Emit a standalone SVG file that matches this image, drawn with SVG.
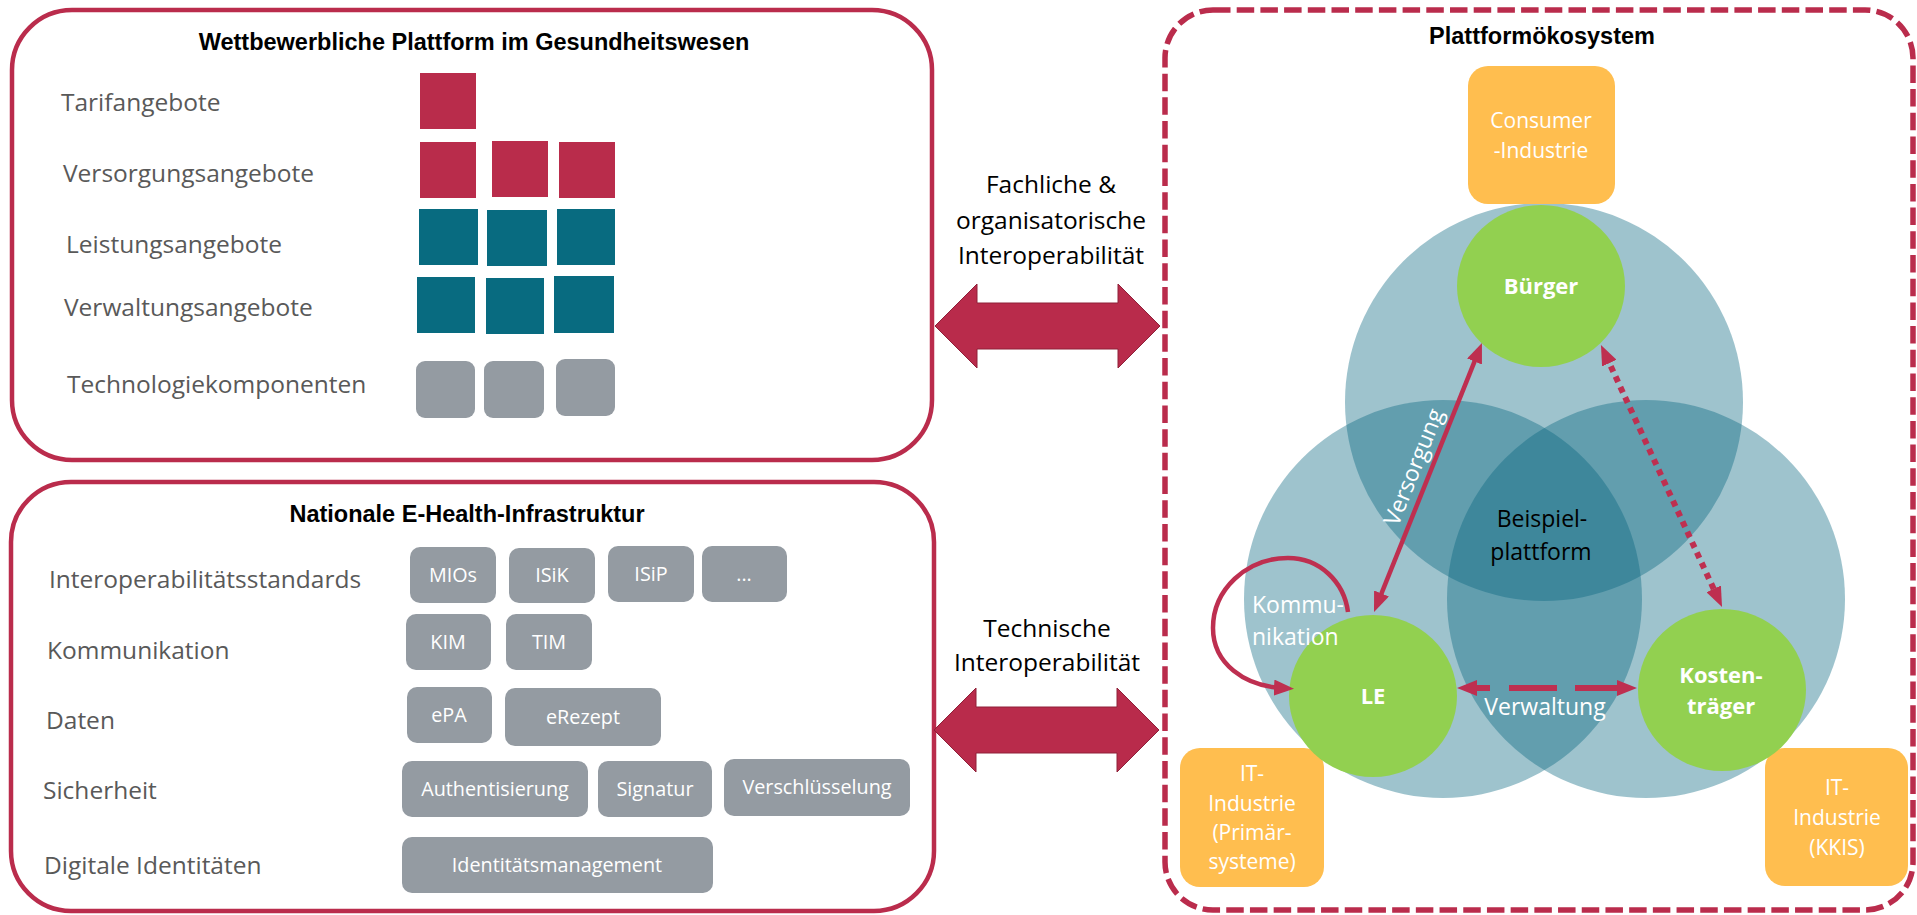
<svg xmlns="http://www.w3.org/2000/svg" width="1917" height="915" viewBox="0 0 1917 915">
  <defs>
    <style>
      .frame { fill: none; stroke: #BA2C4C; stroke-width: 4.5; }
      .eco { fill: none; stroke: #BA2C4C; stroke-width: 5.5; stroke-dasharray: 17.5 6.2; }
      .title { font-family: "Liberation Sans", Arial, sans-serif; font-weight: bold; font-size: 23.5px; fill: #000; text-anchor: middle; }
      .lbl { font-family: "Open Sans", "Liberation Sans", sans-serif; font-size: 24.5px; fill: #595959; }
      .red { fill: #B92C4B; }
      .teal { fill: #086B80; }
      .grey { fill: #949BA2; }
      .chip-t { font-family: "Open Sans", "Liberation Sans", sans-serif; font-size: 19.8px; fill: #fff; text-anchor: middle; }
      .bigarrow { fill: #B92B4B; stroke: #8F2039; stroke-width: 1; }
      .mid { font-family: "Open Sans", "Liberation Sans", sans-serif; font-size: 24.5px; fill: #000; text-anchor: middle; }
      .ring { fill: #04657F; fill-opacity: 0.39; }
      .actor { fill: #92D050; }
      .actor-t { font-family: "Open Sans", "Liberation Sans", sans-serif; font-weight: bold; font-size: 22px; fill: #fff; text-anchor: middle; }
      .ind { fill: #FFBE4F; }
      .ind-t { font-family: "Open Sans", "Liberation Sans", sans-serif; font-size: 21px; fill: #fff; text-anchor: middle; }
      .rel { fill: none; stroke: #BE2F50; }
      .rel-t { font-family: "Open Sans", "Liberation Sans", sans-serif; font-size: 23px; fill: #fff; }
      .core-t { font-family: "Open Sans", "Liberation Sans", sans-serif; font-size: 23px; fill: #000; text-anchor: middle; }
    </style>
    <marker id="head" viewBox="0 0 20 16" refX="8" refY="8" markerWidth="20" markerHeight="16" markerUnits="userSpaceOnUse" orient="auto-start-reverse">
      <path d="M0,0 L20,8 L0,16 z" fill="#BE2F50"/>
    </marker>
    <polygon id="dbl" points="0,0 42,-42 42,-23 183,-23 183,-42 225,0 183,42 183,23 42,23 42,42"/>
  </defs>

  <rect width="1917" height="915" fill="#fff"/>

  <!-- Upper panel: competitive platform -->
  <g id="platform">
    <rect class="frame" x="12" y="10" width="920" height="450" rx="60"/>
    <text class="title" x="474" y="50">Wettbewerbliche Plattform im Gesundheitswesen</text>
    <text class="lbl" x="61" y="111">Tarifangebote</text>
    <text class="lbl" x="63" y="182">Versorgungsangebote</text>
    <text class="lbl" x="66" y="253">Leistungsangebote</text>
    <text class="lbl" x="64" y="316">Verwaltungsangebote</text>
    <text class="lbl" x="67" y="393">Technologiekomponenten</text>
    <rect class="red" x="420" y="73" width="56" height="56"/>
    <rect class="red" x="420" y="142" width="56" height="56"/>
    <rect class="red" x="492" y="141" width="56" height="56"/>
    <rect class="red" x="559" y="142" width="56" height="56"/>
    <rect class="teal" x="419" y="209" width="59" height="56"/>
    <rect class="teal" x="487" y="210" width="60" height="56"/>
    <rect class="teal" x="557" y="209" width="58" height="56"/>
    <rect class="teal" x="417" y="277" width="58" height="56"/>
    <rect class="teal" x="486" y="278" width="58" height="56"/>
    <rect class="teal" x="554" y="276" width="60" height="57"/>
    <rect class="grey" x="416" y="361" width="59" height="57" rx="9"/>
    <rect class="grey" x="484" y="361" width="60" height="57" rx="9"/>
    <rect class="grey" x="556" y="359" width="59" height="57" rx="9"/>
  </g>

  <!-- Lower panel: national e-health infrastructure -->
  <g id="infrastructure">
    <rect class="frame" x="11" y="482" width="923" height="429" rx="60"/>
    <text class="title" x="467" y="522">Nationale E-Health-Infrastruktur</text>
    <text class="lbl" x="49" y="588">Interoperabilitätsstandards</text>
    <text class="lbl" x="47" y="659">Kommunikation</text>
    <text class="lbl" x="46" y="729">Daten</text>
    <text class="lbl" x="43" y="799">Sicherheit</text>
    <text class="lbl" x="44" y="874">Digitale Identitäten</text>

    <rect class="grey" x="410" y="547" width="86" height="56" rx="10"/>
    <text class="chip-t" x="453" y="582">MIOs</text>
    <rect class="grey" x="509" y="548" width="86" height="55" rx="10"/>
    <text class="chip-t" x="552" y="582">ISiK</text>
    <rect class="grey" x="608" y="546" width="86" height="56" rx="10"/>
    <text class="chip-t" x="651" y="581">ISiP</text>
    <rect class="grey" x="702" y="546" width="85" height="56" rx="10"/>
    <text class="chip-t" x="744" y="581">...</text>

    <rect class="grey" x="406" y="614" width="85" height="56" rx="10"/>
    <text class="chip-t" x="448" y="649">KIM</text>
    <rect class="grey" x="506" y="614" width="86" height="56" rx="10"/>
    <text class="chip-t" x="549" y="649">TIM</text>

    <rect class="grey" x="407" y="687" width="85" height="56" rx="10"/>
    <text class="chip-t" x="449" y="722">ePA</text>
    <rect class="grey" x="505" y="688" width="156" height="58" rx="10"/>
    <text class="chip-t" x="583" y="724">eRezept</text>

    <rect class="grey" x="402" y="761" width="186" height="56" rx="10"/>
    <text class="chip-t" x="495" y="796">Authentisierung</text>
    <rect class="grey" x="598" y="761" width="114" height="56" rx="10"/>
    <text class="chip-t" x="655" y="796">Signatur</text>
    <rect class="grey" x="724" y="759" width="186" height="57" rx="10"/>
    <text class="chip-t" x="817" y="794">Verschlüsselung</text>

    <rect class="grey" x="402" y="837" width="311" height="56" rx="10"/>
    <text class="chip-t" x="557" y="872">Identitätsmanagement</text>
  </g>

  <!-- Interoperability links between the panels -->
  <g id="interop">
    <use href="#dbl" class="bigarrow" transform="translate(935,326)"/>
    <text class="mid" x="1051" y="193">Fachliche &amp;</text>
    <text class="mid" x="1051" y="229">organisatorische</text>
    <text class="mid" x="1051" y="264">Interoperabilität</text>
    <use href="#dbl" class="bigarrow" transform="translate(934,730)"/>
    <text class="mid" x="1047" y="637">Technische</text>
    <text class="mid" x="1047" y="671">Interoperabilität</text>
  </g>

  <!-- Platform ecosystem -->
  <g id="ecosystem">
    <rect class="eco" x="1165" y="10" width="748" height="900" rx="48"/>
    <text class="title" x="1542" y="44">Plattformökosystem</text>
  </g>

  <g id="spheres">
    <circle class="ring" cx="1544" cy="402" r="199"/>
    <circle class="ring" cx="1443" cy="599" r="199"/>
    <circle class="ring" cx="1646" cy="599" r="199"/>
  </g>

  <g id="core">
    <text class="core-t" x="1542" y="527">Beispiel-</text>
    <text class="core-t" x="1541" y="560">plattform</text>
  </g>

  <g id="consumer-industrie">
    <rect class="ind" x="1468" y="66" width="147" height="138" rx="20"/>
    <text class="ind-t" x="1541" y="128">Consumer</text>
    <text class="ind-t" x="1541" y="158">-Industrie</text>
  </g>

  <g id="it-primaer">
    <rect class="ind" x="1180" y="748" width="144" height="139" rx="20"/>
    <text class="ind-t" x="1252" y="781">IT-</text>
    <text class="ind-t" x="1252" y="811">Industrie</text>
    <text class="ind-t" x="1252" y="840">(Primär-</text>
    <text class="ind-t" x="1252" y="869">systeme)</text>
  </g>

  <g id="it-kkis">
    <rect class="ind" x="1765" y="748" width="143" height="138" rx="20"/>
    <text class="ind-t" x="1837" y="795">IT-</text>
    <text class="ind-t" x="1837" y="825">Industrie</text>
    <text class="ind-t" x="1837" y="855">(KKIS)</text>
  </g>

  <g id="buerger">
    <ellipse class="actor" cx="1541" cy="286" rx="84" ry="81"/>
    <text class="actor-t" x="1541" y="294">Bürger</text>
  </g>

  <g id="le">
    <ellipse class="actor" cx="1373" cy="696" rx="84" ry="81"/>
    <text class="actor-t" x="1373" y="704">LE</text>
  </g>

  <g id="kostentraeger">
    <ellipse class="actor" cx="1722" cy="690" rx="84" ry="81"/>
    <text class="actor-t" x="1721" y="683">Kosten-</text>
    <text class="actor-t" x="1721" y="714">träger</text>
  </g>

  <!-- Relations between the actors -->
  <g id="connectors">
    <line class="rel" x1="1378.5" y1="600.9" x2="1477.5" y2="354.1" stroke-width="4.5" marker-start="url(#head)" marker-end="url(#head)"/>
    <line class="rel" x1="1606" y1="355.9" x2="1717" y2="596.1" stroke-width="6" stroke-dasharray="6 5.4" marker-start="url(#head)" marker-end="url(#head)"/>
    <line class="rel" x1="1469" y1="688" x2="1625" y2="688" stroke-width="6" stroke-dasharray="21 19 48 18 60" marker-start="url(#head)" marker-end="url(#head)"/>
    <path class="rel" d="M1348,612 C1344,582 1320,558 1288,558 C1246,558 1213,590 1213,628 C1213,664 1245,686 1282,688" stroke-width="4.5" marker-end="url(#head)"/>
    <text class="rel-t" text-anchor="middle" transform="translate(1421,470) rotate(-68.1)">Versorgung</text>
    <text class="rel-t" text-anchor="middle" x="1545" y="715">Verwaltung</text>
    <text class="rel-t" x="1252" y="613">Kommu-</text>
    <text class="rel-t" x="1252" y="645">nikation</text>
  </g>
</svg>
